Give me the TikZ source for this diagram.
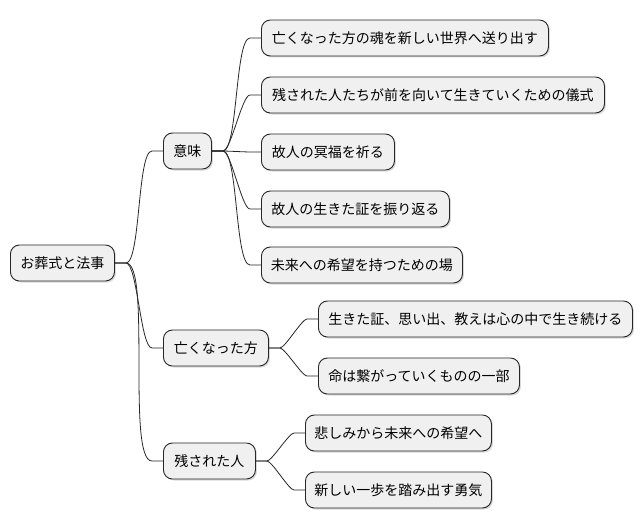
\documentclass[tikz,border=0pt]{standalone}
\usepackage{fontspec}
\setmainfont{Noto Sans CJK JP}
\usetikzlibrary{shadows}
\begin{document}
\begin{tikzpicture}[x=1pt,y=-1pt,
  box/.style={draw=black!85, fill=black!6, rounded corners=9pt, line width=0.9pt,
    minimum height=36pt, inner sep=0pt, anchor=west, font=\fontsize{14pt}{16pt}\selectfont,
    drop shadow={shadow xshift=1.5pt, shadow yshift=-1.5pt, opacity=0.25, fill=black!60}},
  conn/.style={draw=black!85, line width=0.8pt}]
\useasboundingbox (0,0) rectangle (642,527);
\node[box, minimum width=104pt] (root) at (10,263) {お葬式と法事};
\node[box, minimum width=48pt] (imi) at (163,151) {意味};
\node[box, minimum width=105pt] (nak) at (163,348) {亡くなった方};
\node[box, minimum width=92pt] (nok) at (163,461) {残された人};
\node[box, minimum width=287pt] (m1) at (261,38) {亡くなった方の魂を新しい世界へ送り出す};
\node[box, minimum width=343pt] (m2) at (261,95) {残された人たちが前を向いて生きていくための儀式};
\node[box, minimum width=133pt] (m3) at (261,152) {故人の冥福を祈る};
\node[box, minimum width=188pt] (m4) at (261,209) {故人の生きた証を振り返る};
\node[box, minimum width=201pt] (m5) at (261,265) {未来への希望を持つための場};
\node[box, minimum width=314pt] (n1) at (318,319) {生きた証、思い出、教えは心の中で生き続ける};
\node[box, minimum width=201pt] (n2) at (318,376) {命は繋がっていくものの一部};
\node[box, minimum width=186pt] (k1) at (305,433) {悲しみから未来への希望へ};
\node[box, minimum width=186pt] (k2) at (305,490) {新しい一歩を踏み出す勇気};
\foreach \a/\b in {root/imi, root/nak, root/nok, imi/m1, imi/m2, imi/m3, imi/m4, imi/m5, nak/n1, nak/n2, nok/k1, nok/k2}{
  \draw[conn] (\a.east) -- ++(11,0) to[out=0,in=180,looseness=0.33] ([xshift=-11pt]\b.west) -- (\b.west);
}
\end{tikzpicture}
\end{document}
